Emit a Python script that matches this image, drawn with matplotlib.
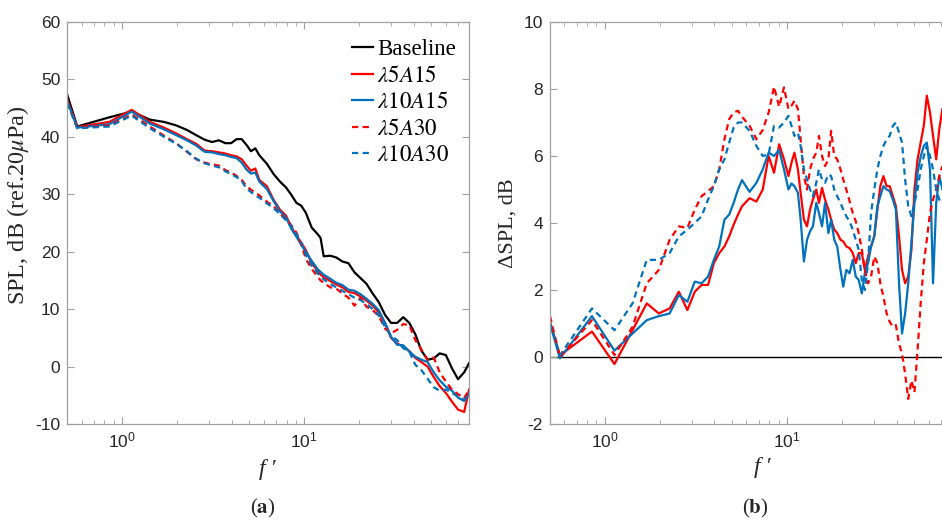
import matplotlib
matplotlib.use("Agg")
import matplotlib.pyplot as plt
from matplotlib.ticker import FixedLocator, LogLocator, NullFormatter

plt.rcParams['font.family'] = ['Liberation Sans', 'DejaVu Sans']
plt.rcParams['mathtext.fontset'] = 'stix'
plt.rcParams['axes.unicode_minus'] = False

SERIF = ['Liberation Serif', 'DejaVu Serif']

# ---------------- data ----------------
series_labels = ['Baseline', r'$\lambda5A15$', r'$\lambda10A15$', r'$\lambda5A30$', r'$\lambda10A30$']

# (a) sound pressure level spectra
freq_a = [0.5, 0.567, 0.85, 1.13, 1.42, 1.70, 1.98, 2.27, 2.55, 2.84,
          3.12, 3.40, 3.69, 3.97, 4.25, 4.54, 4.82, 5.10, 5.39, 5.67,
          6.24, 6.80, 7.37, 7.94, 8.50, 9.07, 9.64, 10.2, 11.0, 11.9,
          12.3, 12.8, 13.9, 15.0, 16.2, 17.5, 18.9, 20.4, 22.0, 23.8,
          25.7, 27.8, 30.0, 32.4, 35.0, 37.8, 40.8, 44.0, 47.6, 51.4,
          55.5, 60.0, 64.8, 70.0, 75.6, 80.5]

spl_baseline = [47.3, 41.8, 43.4, 44.4, 43.0, 42.6, 42.0, 41.2, 40.3, 39.5,
                39.1, 39.4, 38.9, 38.9, 39.6, 39.6, 38.6, 37.5, 38.0, 36.8,
                35.3, 33.5, 32.2, 31.2, 29.9, 28.5, 28.0, 26.8, 24.2, 23.0,
                22.4, 19.2, 19.3, 19.0, 18.3, 18.0, 16.4, 15.4, 14.4, 12.7,
                11.2, 9.0, 7.6, 7.6, 8.6, 7.6, 5.6, 2.8, 1.2, 1.4,
                2.3, 2.0, -0.3, -2.2, -1.0, 0.6]

spl_l5a15 = [46.4, 41.7, 42.6, 44.7, 42.6, 41.6, 40.6, 39.6, 38.8, 37.6,
             37.5, 37.3, 37.1, 36.8, 36.6, 36.1, 35.0, 34.1, 34.5, 32.5,
             31.4, 29.0, 27.3, 26.3, 24.3, 22.8, 21.6, 20.3, 18.0, 16.6,
             16.0, 15.6, 14.9, 14.3, 13.8, 13.0, 12.8, 12.2, 11.5, 10.6,
             9.4, 7.6, 5.0, 4.0, 3.5, 2.7, 1.5, 0.8, 0.0, -1.8,
             -3.4, -4.6, -6.1, -7.5, -7.9, -4.0]

spl_l10a15 = [46.2, 41.6, 42.2, 44.4, 42.3, 41.3, 40.3, 39.4, 38.5, 37.4,
              37.3, 37.0, 36.8, 36.5, 36.3, 35.5, 34.3, 33.6, 33.8, 32.2,
              30.9, 28.8, 27.0, 26.0, 24.0, 22.6, 21.2, 20.0, 18.4, 16.9,
              16.5, 16.0, 15.3, 14.6, 14.2, 13.4, 13.2, 12.6, 11.8, 10.9,
              9.8, 7.6, 5.2, 3.8, 3.7, 2.6, 1.7, 1.2, 0.8, -1.0,
              -2.4, -3.5, -4.2, -5.4, -6.0, -4.6]

spl_l5a30 = [46.0, 41.6, 42.0, 43.9, 41.8, 40.2, 38.9, 37.4, 36.1, 35.5,
             35.2, 35.0, 34.2, 33.8, 33.2, 32.5, 31.4, 30.8, 30.3, 29.8,
             28.7, 27.9, 26.6, 25.7, 24.6, 23.3, 21.2, 18.8, 17.0, 15.6,
             15.0, 14.6, 13.8, 13.6, 12.7, 12.0, 10.6, 12.0, 10.4, 9.8,
             8.8, 6.6, 5.8, 6.4, 7.4, 7.2, 4.6, 3.0, 1.2, 1.6,
             -1.0, -2.6, -4.0, -4.8, -5.5, -4.0]

spl_l10a30 = [45.9, 41.5, 41.8, 43.7, 41.5, 40.0, 38.8, 37.5, 36.2, 35.4,
              35.0, 34.7, 34.0, 33.5, 33.0, 32.3, 31.0, 30.4, 29.8, 29.4,
              28.4, 27.6, 26.5, 25.5, 24.4, 23.0, 21.5, 19.5, 17.6, 16.2,
              15.6, 15.2, 14.4, 13.8, 13.2, 12.6, 12.0, 11.6, 10.9, 10.0,
              8.9, 6.9, 5.4, 4.6, 3.2, 2.6, 0.3, -0.6, -2.1, -3.6,
              -4.2, -4.0, -4.6, -5.2, -5.8, -4.8]

# (b) noise reduction relative to the baseline
freq_b = [0.5, 0.567, 0.85, 1.13, 1.42, 1.70, 1.98, 2.27, 2.55, 2.84,
          3.12, 3.40, 3.69, 3.97, 4.25, 4.54, 4.82, 5.10, 5.39, 5.67,
          6.24, 6.80, 7.37, 7.94, 8.50, 9.07, 9.64, 10.2, 10.6, 11.0,
          11.5, 11.9, 12.4, 12.9, 13.4, 13.9, 14.5, 15.0, 15.6, 16.2,
          16.9, 17.5, 18.2, 18.9, 19.7, 20.4, 21.2, 22.1, 23.0, 23.9,
          24.8, 25.8, 26.8, 27.9, 29.0, 30.2, 31.4, 32.6, 33.9, 35.3,
          36.7, 38.2, 39.7, 41.3, 42.9, 44.6, 46.4, 48.3, 50.2, 52.2,
          54.3, 56.5, 58.7, 61.1, 63.5, 66.1, 68.7, 71.5]

dspl_l5a15 = [1.05, 0.05, 0.76, -0.21, 0.8, 1.6, 1.3, 1.45, 1.95, 1.4,
              1.95, 2.15, 2.15, 2.8, 3.1, 3.3, 3.6, 3.95, 4.25, 4.5,
              4.74, 4.64, 5.0, 6.0, 5.5, 6.35, 5.9, 5.4, 5.8, 6.1,
              5.6, 4.9, 4.1, 3.9, 4.4, 4.7, 5.0, 4.6, 5.05, 4.7,
              4.4, 4.1, 3.8, 3.7, 3.5, 3.45, 3.3, 3.25, 3.1, 2.8,
              3.1, 3.1, 2.6, 3.0, 3.3, 3.6, 4.4, 5.1, 5.4, 5.1,
              5.1, 4.8, 4.5, 3.6, 2.6, 2.2, 2.4, 3.2, 5.0, 5.9,
              6.4, 6.9, 7.8, 7.3, 6.6, 5.9, 6.8, 7.4]

dspl_l10a15 = [1.0, -0.04, 1.22, 0.19, 0.7, 1.1, 1.22, 1.3, 1.85, 1.65,
               2.25, 2.2, 2.4, 2.9, 3.3, 4.1, 4.25, 4.6, 5.0, 5.28,
               4.93, 5.2, 5.6, 6.1, 6.0, 6.18, 5.6, 5.0, 5.18, 5.1,
               4.9, 4.1, 2.85, 3.5, 3.75, 3.9, 4.6, 4.3, 3.9, 4.6,
               3.7, 4.1, 3.5, 3.3, 2.6, 2.1, 2.6, 2.5, 2.9, 2.4,
               2.3, 1.9, 2.5, 2.8, 3.3, 3.6, 4.5, 4.8, 5.1, 5.0,
               4.95, 4.7, 4.4, 2.2, 0.7, 1.3, 2.2, 3.4, 4.6, 5.5,
               5.98, 6.3, 6.4, 5.6, 2.2, 4.6, 5.4, 5.0]

dspl_l5a30 = [1.22, 0.0, 1.1, 0.06, 0.9, 2.2, 2.6, 3.5, 3.9, 3.85,
              4.4, 4.8, 4.95, 5.1, 5.6, 6.5, 7.1, 7.3, 7.35, 7.17,
              6.9, 6.5, 6.78, 7.3, 8.07, 7.47, 8.05, 7.4, 7.5, 7.65,
              7.4, 6.5, 5.4, 5.0, 5.6, 5.9, 6.1, 6.6, 6.0, 5.7,
              5.9, 6.75, 6.0, 5.9, 5.6, 5.3, 5.0, 4.65, 4.3, 4.05,
              3.7, 3.2, 2.6, 2.2, 2.4, 3.0, 2.8, 2.2, 1.8, 1.3,
              1.05, 0.9, 0.95, 0.4, 0.1, -0.5, -1.25, -0.7, -1.05, 0.2,
              1.6, 2.8, 3.5, 4.3, 4.7, 5.0, 5.4, 5.7]

dspl_l10a30 = [1.0, 0.05, 1.45, 0.8, 1.6, 2.9, 2.9, 3.1, 3.6, 3.8,
               4.0, 4.2, 4.7, 5.1, 5.6, 5.9, 6.4, 6.85, 7.0, 7.0,
               6.75, 6.3, 6.0, 6.05, 6.9, 6.85, 7.0, 7.2, 6.9, 6.6,
               6.7, 6.3, 5.6, 5.3, 5.0, 4.8, 5.2, 5.6, 5.3, 5.2,
               5.45, 5.4, 5.0, 4.8, 4.6, 4.4, 4.2, 4.05, 3.8, 3.5,
               3.2, 2.3, 2.0, 2.8, 4.3, 5.0, 5.6, 6.0, 6.3, 6.5,
               6.6, 6.9, 7.0, 6.7, 6.4, 5.3, 4.5, 4.2, 4.6, 5.0,
               5.6, 6.0, 6.3, 6.0, 5.6, 5.0, 4.7, 4.6]

yticks_a = [-10, 0, 10, 20, 30, 40, 50, 60]
yticks_b = [-2, 0, 2, 4, 6, 8, 10]
xticks = [1, 10]
xticklabels = [r'$\mathdefault{10^{0}}$', r'$\mathdefault{10^{1}}$']

# ---------------- styling ----------------
RED = '#ff0000'
BLUE = '#0072bd'
SPINE = '#a0a0a0'
TXT = '#262626'
LW = 1.6
DASH = (2.8, 2.0)

W, H = 942, 522
fig = plt.figure(figsize=(W / 100, H / 100), dpi=100)
axA = fig.add_axes([67.3 / W, 98 / H, 402 / W, 402 / H])
axB = fig.add_axes([550 / W, 98 / H, 402 / W, 402 / H])


def style_axes(ax, yticks, ylim):
    ax.set_xscale('log')
    ax.set_xlim(0.5, 80.7)
    ax.set_ylim(*ylim)
    ax.xaxis.set_major_locator(FixedLocator(xticks))
    ax.set_xticklabels(xticklabels)
    ax.xaxis.set_minor_locator(LogLocator(base=10, subs=range(2, 10)))
    ax.xaxis.set_minor_formatter(NullFormatter())
    ax.set_yticks(yticks)
    ax.set_yticklabels([str(v) for v in yticks])
    for s in ax.spines.values():
        s.set_color(SPINE)
        s.set_linewidth(0.9)
    ax.tick_params(which='both', direction='in', top=True, right=True,
                   color=SPINE, labelcolor=TXT, labelsize=12.5, pad=5)
    ax.tick_params(which='major', length=5)
    ax.tick_params(which='minor', length=3)


def f_prime_label(ax, x_px, y_px, x0_px):
    ax.text((x_px - x0_px) / 402, -(y_px - 424) / 402, 'f\u2009\u2032', transform=ax.transAxes,
            ha='center', va='center', family=SERIF, style='italic', fontsize=17, color=TXT)


# (a)
style_axes(axA, yticks_a, (-10, 60))
axA.plot(freq_a, spl_baseline, color='black', lw=LW, label=series_labels[0])
axA.plot(freq_a, spl_l5a15, color=RED, lw=LW, label=series_labels[1])
axA.plot(freq_a, spl_l10a15, color=BLUE, lw=LW, label=series_labels[2])
axA.plot(freq_a, spl_l5a30, color=RED, lw=LW, dashes=DASH, label=series_labels[3])
axA.plot(freq_a, spl_l10a30, color=BLUE, lw=LW, dashes=DASH, label=series_labels[4])
axA.set_ylabel(r'SPL, dB (ref.20$\mu$Pa)', family=SERIF, fontsize=17.5, color=TXT)
axA.yaxis.set_label_coords(-(67.3 - 31) / 402, 0.545)
f_prime_label(axA, 267, 469, 67.3)
leg = axA.legend(loc='upper left', bbox_to_anchor=((352 - 67.3) / 402, (424 - 39) / 402),
                 frameon=False, borderpad=0, borderaxespad=0, handlelength=0.9,
                 handletextpad=0.2, labelspacing=0.24,
                 prop={'family': SERIF, 'size': 16.5})
for t in leg.get_texts():
    t.set_color('black')
axA.text((263 - 67.3) / 402, -(508 - 424) / 402, r'($\mathbf{a}$)', transform=axA.transAxes,
         ha='center', va='center', family=SERIF, fontsize=15, color=TXT)

# (b)
style_axes(axB, yticks_b, (-2, 10))
axB.axhline(0, color='black', lw=1.0, zorder=1)
axB.plot(freq_b, dspl_l5a15, color=RED, lw=LW)
axB.plot(freq_b, dspl_l10a15, color=BLUE, lw=LW)
axB.plot(freq_b, dspl_l5a30, color=RED, lw=LW, dashes=DASH)
axB.plot(freq_b, dspl_l10a30, color=BLUE, lw=LW, dashes=DASH)
axB.set_ylabel('ΔSPL, dB', family=SERIF, fontsize=16, color=TXT)
axB.yaxis.set_label_coords(-(550 - 518) / 402, 0.5)
f_prime_label(axB, 762, 468, 550)
axB.text((755 - 550) / 402, -(508 - 424) / 402, r'($\mathbf{b}$)', transform=axB.transAxes,
         ha='center', va='center', family=SERIF, fontsize=15, color=TXT)

fig.savefig('out.png', dpi=100)
